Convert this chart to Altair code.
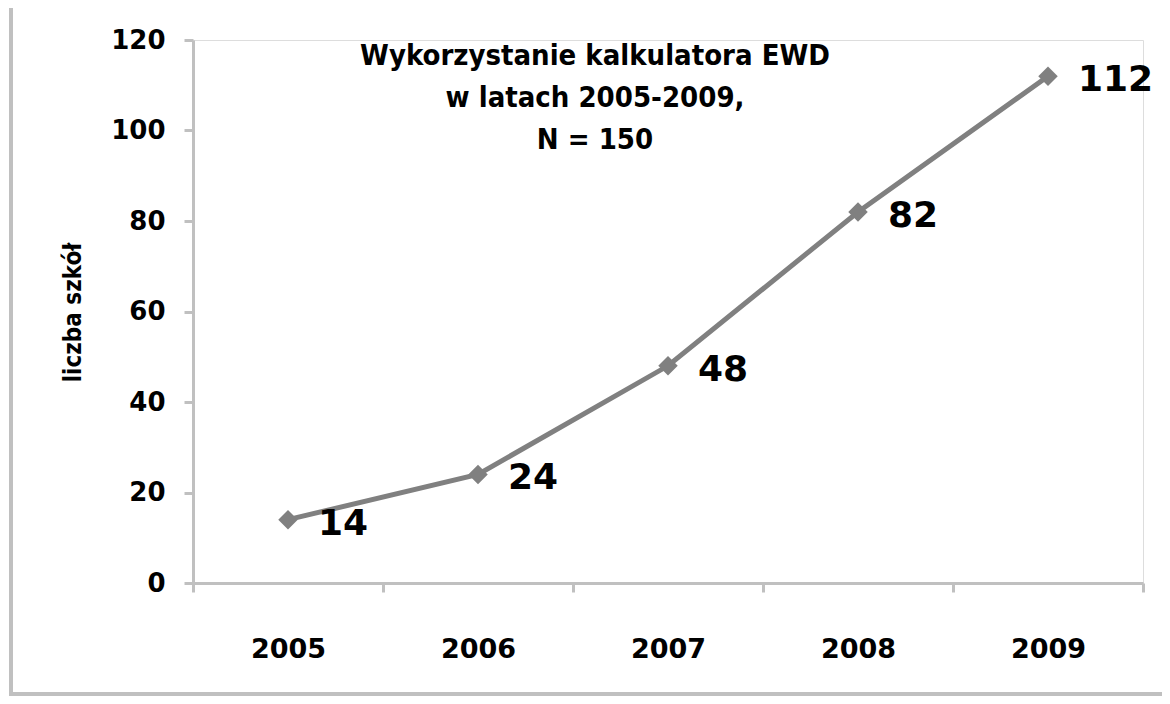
import altair as alt
import pandas as pd

years = ["2005", "2006", "2007", "2008", "2009"]
counts = [14, 24, 48, 82, 112]
title_lines = ["Wykorzystanie kalkulatora EWD", "w latach 2005-2009,", "N = 150"]
y_ticks = [0, 20, 40, 60, 80, 100, 120]

df = pd.DataFrame({"rok": years, "liczba": counts})

AX = "#c0c0c0"
LINE = "#808080"
FONT = "DejaVu Sans"

x_enc = alt.X(
    "rok:N",
    sort=years,
    scale=alt.Scale(type="band", paddingInner=0, paddingOuter=0),
    axis=alt.Axis(
        title=None,
        tickBand="extent",
        tickExtra=True,
        tickSize=9,
        tickColor=AX,
        tickWidth=3,
        domainColor=AX,
        domainWidth=3,
        labelAngle=0,
        labelFont=FONT,
        labelFontWeight="bold",
        labelFontSize=27,
        labelColor="black",
        labelPadding=44,
        grid=False,
    ),
)
y_enc = alt.Y(
    "liczba:Q",
    scale=alt.Scale(domain=[0, 120], nice=False),
    axis=alt.Axis(
        values=y_ticks,
        title="liczba szkół",
        titleFont="DejaVu Sans Condensed, DejaVu Sans",
        titleFontWeight="bold",
        titleFontSize=24,
        titleColor="black",
        titleAngle=-90,
        titleAlign="center",
        titleBaseline="middle",
        titleX=-120,
        titleY=272,
        tickSize=9,
        tickColor=AX,
        tickWidth=3,
        domainColor=AX,
        domainWidth=3,
        labelFont=FONT,
        labelFontWeight="bold",
        labelFontSize=26,
        labelColor="black",
        labelPadding=19,
        grid=False,
    ),
)

base = alt.Chart(df)

line = base.mark_line(color=LINE, strokeWidth=5).encode(x=x_enc, y=y_enc)
points = base.mark_point(shape="diamond", filled=True, size=380, color=LINE, opacity=1).encode(
    x=alt.X("rok:N", sort=years), y="liczba:Q"
)
labels = base.mark_text(
    align="left", baseline="middle", dx=30, dy=4,
    font=FONT, fontWeight="bold", fontSize=36, color="black"
).encode(x=alt.X("rok:N", sort=years), y="liczba:Q", text="liczba:Q")

title = alt.Chart(alt.Data(values=[{}])).mark_text(
    text=title_lines, font="DejaVu Sans Condensed, DejaVu Sans", fontWeight="bold", fontSize=29,
    lineHeight=42, align="center", baseline="top", color="black"
).encode(x=alt.value(402), y=alt.value(2))

one = alt.Data(values=[{}])
border_left = alt.Chart(one).mark_rule(color=AX, strokeWidth=4).encode(
    x=alt.value(-182), y=alt.value(-35), y2=alt.value(654)
)
border_top = alt.Chart(one).mark_rule(color=AX, strokeWidth=4).encode(
    x=alt.value(-184), x2=alt.value(1000), y=alt.value(-35)
)
border_bottom = alt.Chart(one).mark_rule(color=AX, strokeWidth=4).encode(
    x=alt.value(-184), x2=alt.value(1000), y=alt.value(654)
)

chart = alt.layer(border_left, border_top, border_bottom, line, points, labels, title).properties(
    width=950,
    height=543,
    autosize=alt.AutoSizeParams(type="none"),
    padding={"left": 185, "top": 32, "right": 19, "bottom": 113},
).configure_view(stroke=None).configure(background="white")

chart.save("out.html", embed_options={"renderer": "svg", "actions": False})
